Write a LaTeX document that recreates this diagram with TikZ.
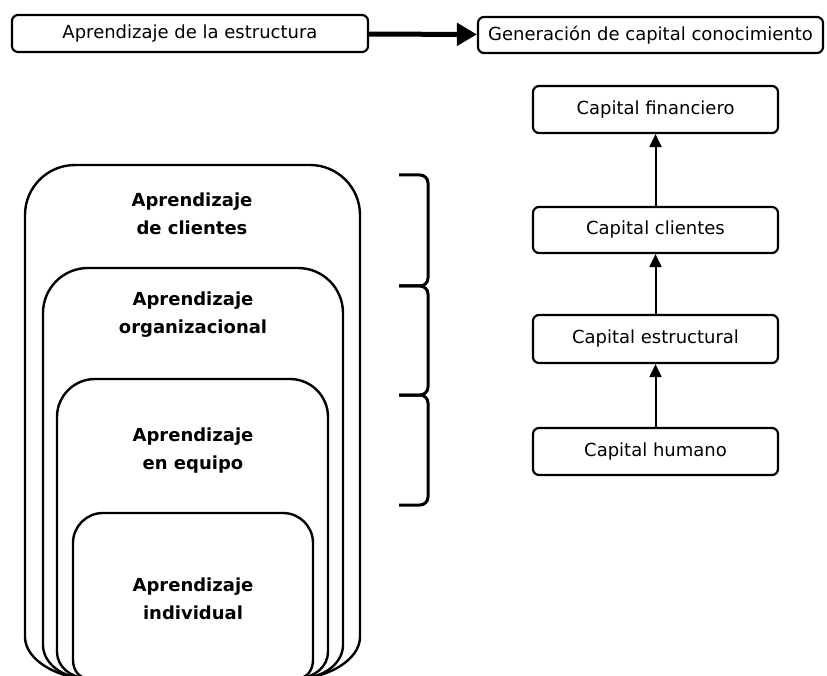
\documentclass[tikz,border=0pt]{standalone}
\usepackage{fontspec}
\setmainfont{DejaVu Sans}
\usetikzlibrary{arrows.meta}
\begin{document}
\begin{tikzpicture}[x=1pt,y=-1pt,
  flowbox/.style={draw, line width=2.2pt, rounded corners=6pt, fill=white,
    inner sep=0pt, font=\fontsize{18}{20}\selectfont},
  nest/.style={draw, line width=2.4pt},
  nestlabel/.style={align=center, font=\bfseries\fontsize{18}{28}\selectfont},
  bracket/.style={draw, line width=3pt, rounded corners=8pt},
  uparrow/.style={draw, line width=2pt, -{Triangle[length=13pt,width=12pt]}},
  bigarrow/.style={draw, line width=5pt, -{Triangle[length=20pt,width=22pt]}}]
\useasboundingbox (0,0) rectangle (827,676);
\clip (0,0) rectangle (827,676);

% top row
\node[flowbox, minimum width=356pt, minimum height=37pt] (learn) at (190,33.5)
  {Aprendizaje de la estructura};
\node[flowbox, minimum width=345pt, minimum height=36pt] (gen) at (650.5,35)
  {Generación de capital conocimiento};
\draw[bigarrow] (learn) -- (gen);

% capital column
\node[flowbox, minimum width=245pt, minimum height=47pt] (fin) at (655.5,109.5) {Capital financiero};
\node[flowbox, minimum width=245pt, minimum height=46pt] (cli) at (655.5,230) {Capital clientes};
\node[flowbox, minimum width=245pt, minimum height=48pt] (est) at (655.5,339) {Capital estructural};
\node[flowbox, minimum width=245pt, minimum height=47pt] (hum) at (655.5,451.5) {Capital humano};
\draw[uparrow] (hum) -- (est);
\draw[uparrow] (est) -- (cli);
\draw[uparrow] (cli) -- (fin);

% nested learning levels
\draw[nest, rounded corners=50pt] (25,637) -- (25,165) -- (360,165) -- (360,637);
\draw[nest] (25,637) .. controls (25,660) and (58,678) .. (85,678);
\draw[nest] (360,637) .. controls (360,660) and (327,678) .. (300,678);

\draw[nest, rounded corners=45pt] (43,645) -- (43,268) -- (343,268) -- (343,645);
\draw[nest] (43,645) .. controls (43,663) and (62,678) .. (85,678);
\draw[nest] (343,645) .. controls (343,663) and (324,678) .. (301,678);

\draw[nest, rounded corners=38pt] (57,652) -- (57,379) -- (328,379) -- (328,652);
\draw[nest] (57,652) .. controls (57,666) and (70,678) .. (87,678);
\draw[nest] (328,652) .. controls (328,666) and (315,678) .. (298,678);

\draw[nest, rounded corners=30pt] (73,660) -- (73,513) -- (313,513) -- (313,660);
\draw[nest] (73,660) .. controls (73,670) and (79,678) .. (87,678);
\draw[nest] (313,660) .. controls (313,670) and (307,678) .. (299,678);

\node[nestlabel] (lclient) at (192,214) {Aprendizaje\\de clientes};
\node[nestlabel] (lorg) at (193,315) {Aprendizaje\\organizacional};
\node[nestlabel] (lteam) at (193,451) {Aprendizaje\\en equipo};
\node[nestlabel] (lind) at (193,599) {Aprendizaje\\individual};

% brackets
\draw[bracket] (399,175) -- (428,175) -- (428,286) -- (399,286);
\draw[bracket] (399,286) -- (428,286) -- (428,395) -- (399,395);
\draw[bracket] (399,395) -- (428,395) -- (428,505) -- (399,505);
\end{tikzpicture}
\end{document}
